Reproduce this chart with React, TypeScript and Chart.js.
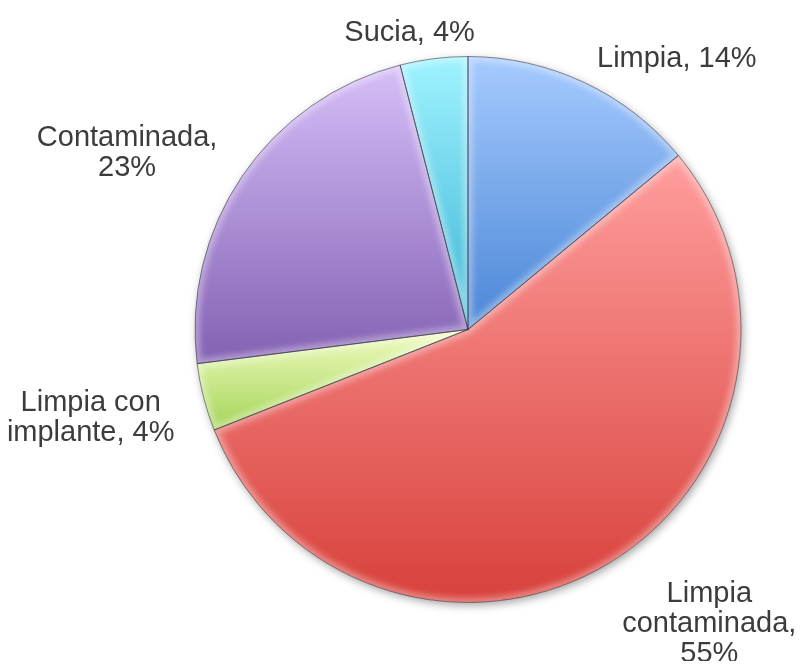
import React, { useEffect, useRef } from 'react';
import { Chart, registerables } from 'chart.js';

Chart.register(...registerables);

const categories = ['Limpia', 'Limpia contaminada', 'Limpia con implante', 'Contaminada', 'Sucia'];
const percentages = [14, 55, 4, 23, 4];

const topColors = ['#A6CBFF', '#FF9E9E', '#F0FCC0', '#D6BFF8', '#A0F3FF'];
const bottomColors = ['#4A86D6', '#D8413B', '#A4D458', '#8360B3', '#3AB4D4'];

function sliceGradient(ctx: any) {
  const chart = ctx.chart;
  const area = chart.chartArea;
  const i = ctx.dataIndex;
  if (!area || i === undefined) return bottomColors[i ?? 0];
  const cx = (area.left + area.right) / 2;
  const cy = (area.top + area.bottom) / 2;
  const r = (Math.min(area.width, area.height) - 1) / 2;
  const total = percentages.reduce((a, b) => a + b, 0);
  let cum = 0;
  for (let k = 0; k < i; k++) cum += percentages[k];
  const a0 = -Math.PI / 2 + (2 * Math.PI * cum) / total;
  const a1 = a0 + (2 * Math.PI * percentages[i]) / total;
  let minY = cy;
  let maxY = cy;
  for (const a of [a0, a1]) {
    const yy = cy + r * Math.sin(a);
    minY = Math.min(minY, yy);
    maxY = Math.max(maxY, yy);
  }
  for (let k = -1; k <= 2; k++) {
    const t = -Math.PI / 2 + 2 * Math.PI * k;
    if (t > a0 + 1e-6 && t < a1 - 1e-6) minY = cy - r;
    const b = Math.PI / 2 + 2 * Math.PI * k;
    if (b > a0 + 1e-6 && b < a1 - 1e-6) maxY = cy + r;
  }
  const g = chart.ctx.createLinearGradient(0, minY, 0, maxY);
  g.addColorStop(0, topColors[i]);
  g.addColorStop(1, bottomColors[i]);
  return g;
}

function arcPath(ctx: CanvasRenderingContext2D, p: any) {
  ctx.beginPath();
  ctx.moveTo(p.x, p.y);
  ctx.arc(p.x, p.y, p.outerRadius, p.startAngle, p.endAngle);
  ctx.closePath();
}

const shadowPlugin = {
  id: 'pieShadow',
  beforeDatasetsDraw(chart: any) {
    const meta = chart.getDatasetMeta(0);
    if (!meta.data.length) return;
    const p = meta.data[0].getProps(['x', 'y', 'outerRadius'], true);
    const ctx = chart.ctx;
    ctx.save();
    ctx.beginPath();
    ctx.arc(p.x, p.y, p.outerRadius, 0, Math.PI * 2);
    ctx.shadowColor = 'rgba(0,0,0,0.35)';
    ctx.shadowBlur = 9;
    ctx.shadowOffsetX = 2;
    ctx.shadowOffsetY = 3;
    ctx.fillStyle = '#ffffff';
    ctx.fill();
    ctx.restore();
  },
};

const bevelPlugin = {
  id: 'pieBevel',
  afterDatasetsDraw(chart: any) {
    const meta = chart.getDatasetMeta(0);
    const ctx = chart.ctx;
    meta.data.forEach((arc: any) => {
      const p = arc.getProps(['x', 'y', 'startAngle', 'endAngle', 'outerRadius'], true);
      ctx.save();
      arcPath(ctx, p);
      ctx.clip();
      ctx.filter = 'blur(3px)';
      ctx.strokeStyle = 'rgba(255,255,255,0.38)';
      ctx.lineWidth = 9;
      arcPath(ctx, p);
      ctx.stroke();
      ctx.restore();
    });
    meta.data.forEach((arc: any) => {
      const p = arc.getProps(['x', 'y', 'startAngle', 'endAngle', 'outerRadius'], true);
      ctx.save();
      ctx.strokeStyle = 'rgba(45,45,60,0.55)';
      ctx.lineWidth = 1;
      ctx.lineJoin = 'round';
      arcPath(ctx, p);
      ctx.stroke();
      ctx.restore();
    });
  },
};

function wrapText(ctx: CanvasRenderingContext2D, text: string, maxW: number) {
  const words = text.split(' ');
  const lines: string[] = [];
  let cur = '';
  for (const w of words) {
    const test = cur ? cur + ' ' + w : w;
    if (cur && ctx.measureText(test).width > maxW) {
      lines.push(cur);
      cur = w;
    } else {
      cur = test;
    }
  }
  if (cur) lines.push(cur);
  return lines;
}

const labelPlugin = {
  id: 'outsideLabels',
  afterDatasetsDraw(chart: any) {
    const ctx = chart.ctx;
    const meta = chart.getDatasetMeta(0);
    ctx.save();
    ctx.font = '29px "Liberation Sans", Arial, sans-serif';
    ctx.fillStyle = '#3c3c3c';
    ctx.textAlign = 'center';
    ctx.textBaseline = 'alphabetic';
    const lineH = 30;
    meta.data.forEach((arc: any, i: number) => {
      const p = arc.getProps(['x', 'y', 'startAngle', 'endAngle', 'outerRadius'], true);
      const mid = (p.startAngle + p.endAngle) / 2;
      const dx = Math.cos(mid);
      const dy = Math.sin(mid);
      const text = `${categories[i]}, ${percentages[i]}%`;
      const lines = wrapText(ctx, text, 190);
      const w = Math.max(...lines.map((l) => ctx.measureText(l).width));
      const h = lines.length * lineH;
      const cx =
        p.x + dx * (p.outerRadius + 30) + Math.sign(dx) * Math.min(1, Math.abs(dx) * 2.5) * (w / 2);
      const cy = p.y + dy * (p.outerRadius + 12) + dy * (h / 2) + (dy > 0 ? 9 : 0);
      const top = cy - h / 2;
      lines.forEach((l, j) => ctx.fillText(l, cx, top + j * lineH + lineH / 2 + 9));
    });
    ctx.restore();
  },
};

export default function App() {
  const canvasRef = useRef<HTMLCanvasElement | null>(null);

  useEffect(() => {
    if (!canvasRef.current) return;
    const chart = new Chart(canvasRef.current, {
      type: 'pie',
      data: {
        labels: categories,
        datasets: [
          {
            data: percentages,
            backgroundColor: sliceGradient as any,
            borderColor: 'rgba(0,0,0,0)',
            borderWidth: 1,
            hoverOffset: 0,
          },
        ],
      },
      options: {
        animation: false,
        responsive: true,
        maintainAspectRatio: false,
        events: [],
        layout: { padding: { top: 48, bottom: 58, left: 140, right: 8 } },
        plugins: {
          legend: { display: false },
          tooltip: { enabled: false },
        },
      },
      plugins: [shadowPlugin, bevelPlugin, labelPlugin],
    });
    return () => chart.destroy();
  }, []);

  return (
    <div style={{ width: 788, height: 653, position: 'relative' }}>
      <canvas ref={canvasRef} />
    </div>
  );
}
